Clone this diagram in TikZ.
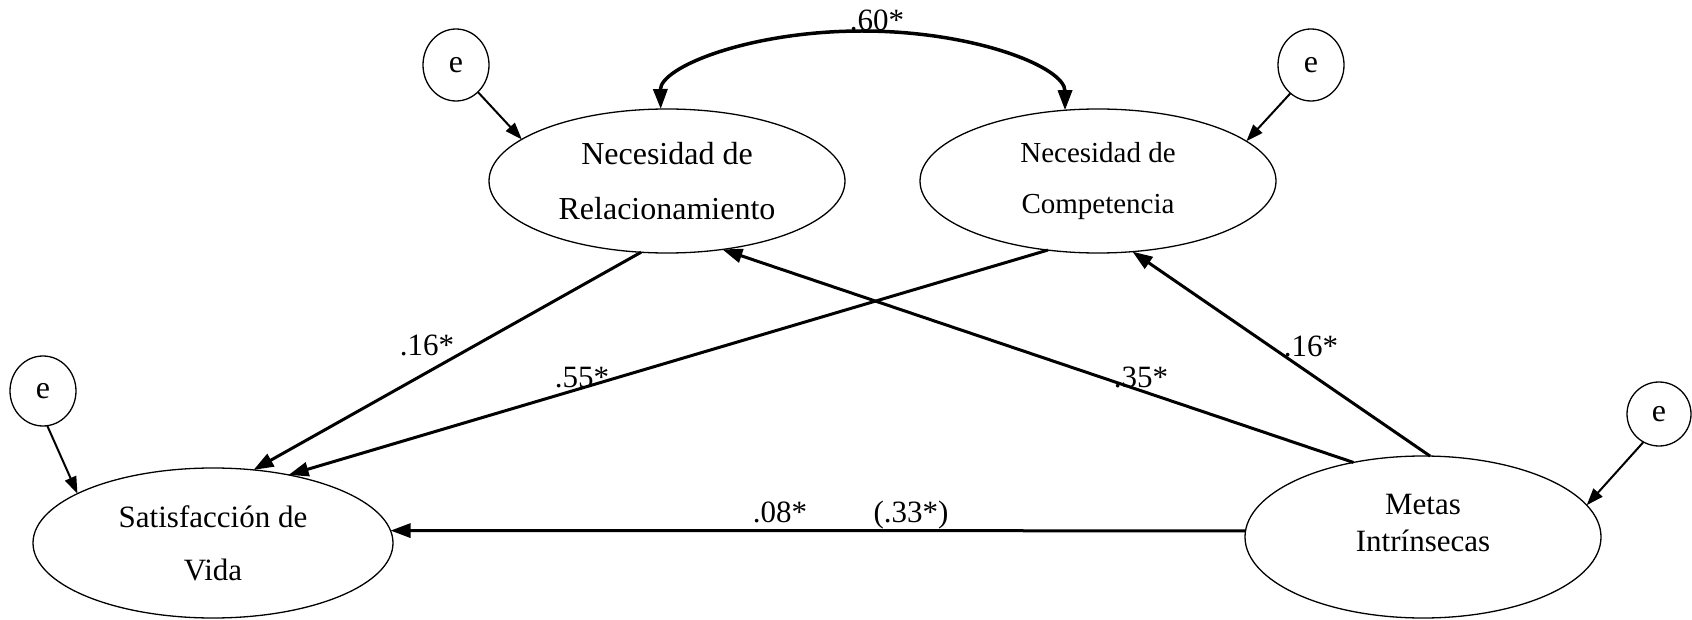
\documentclass[tikz,border=0pt]{standalone}
\usepackage{fontspec}
\setmainfont{Liberation Serif}
\usetikzlibrary{shapes.geometric,arrows.meta}
\tikzset{
  latent/.style={draw, ellipse, line width=1.3pt, inner sep=0pt, outer sep=0pt, align=center},
  errnode/.style={draw, ellipse, line width=1.3pt, inner sep=0pt, outer sep=0pt, minimum width=66pt, minimum height=72pt, font=\fontsize{32}{38}\selectfont},
  patharrow/.style={line width=3pt, -{Triangle[length=20pt,width=14pt]}},
  errarrow/.style={line width=2pt, -{Triangle[length=17pt,width=12pt]}},
  covarrow/.style={line width=3.5pt, {Triangle[length=20pt,width=14pt]}-{Triangle[length=20pt,width=14pt]}},
  coef/.style={anchor=base, inner sep=0pt, font=\fontsize{31}{36}\selectfont},
}
\begin{document}
\begin{tikzpicture}[x=1pt,y=-1pt]
\useasboundingbox (0,0) rectangle (1692,620);
% latent variables
\node[latent, minimum width=356pt, minimum height=144pt, font=\fontsize{32}{55}\selectfont] (nr) at (667,181) {Necesidad de\\Relacionamiento};
\node[latent, minimum width=356pt, minimum height=144pt, font=\fontsize{29}{51}\selectfont] (nc) at (1098,181) {Necesidad de\\Competencia};
\node[latent, minimum width=360pt, minimum height=150pt, font=\fontsize{31}{53}\selectfont] (sv) at (213,543) {Satisfacción de\\Vida};
\node[latent, minimum width=356pt, minimum height=162pt, text depth=29pt, font=\fontsize{31}{37}\selectfont] (mi) at (1423,537) {Metas\\Intrínsecas};
% error terms
\node[errnode] (e1) at (456,65) {e};
\node[errnode] (e2) at (1311,65) {e};
\node[errnode, minimum width=66pt, minimum height=70pt] (e3) at (43,391) {e};
\node[errnode, minimum width=64pt, minimum height=64pt] (e4) at (1659,414) {e};
% error arrows
\draw[errarrow] (e1.-51) -- (nr.164);
\draw[errarrow] (e2.234) -- (nc.15);
\draw[errarrow] (e3.-83) -- (sv.160);
\draw[errarrow] (e4.241) -- (mi.11.5);
% structural paths
\draw[patharrow] (nr.250) -- (sv.61);
\draw[patharrow] (nc.234) -- (sv.42);
\draw[patharrow] (mi.133) -- (nr.-51);
\draw[patharrow] (mi.85) -- (nc.-64);
\draw[patharrow] (mi.178) -- (sv.4);
% covariance
\draw[covarrow] (nr.95) .. controls (660,67) and (750,31) .. (862,31) .. controls (974,31) and (1065,67) .. (nc.115);
% coefficients
\node[coef] (c60) at (877,31) {.60*};
\node[coef] (c16a) at (427,355) {.16*};
\node[coef] (c55) at (582,387) {.55*};
\node[coef] (c35) at (1141,387) {.35*};
\node[coef] (c16b) at (1311,356) {.16*};
\node[coef] (c08) at (780,522) {.08*};
\node[coef] (c33) at (911,522) {(.33*)};
\end{tikzpicture}
\end{document}
